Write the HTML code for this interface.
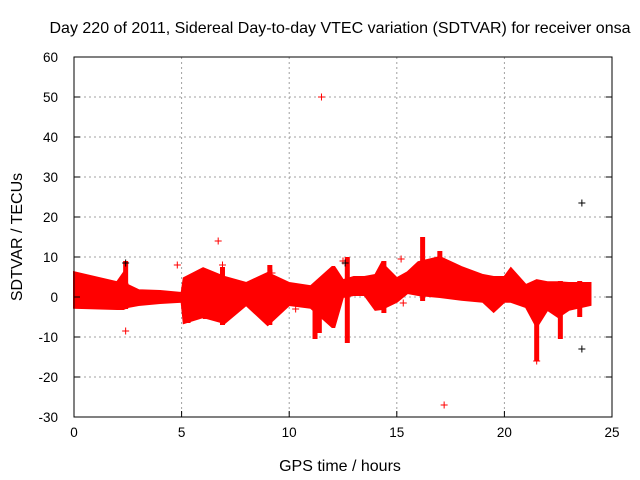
<!DOCTYPE html>
<html><head><meta charset="utf-8"><style>
body{margin:0;background:#fff;}
svg{display:block;font-family:"Liberation Sans",sans-serif;}
</style></head><body>
<svg id="chart" width="640" height="480" viewBox="0 0 640 480">
<text x="340" y="33" font-size="16" text-anchor="middle">Day 220 of 2011, Sidereal Day-to-day VTEC variation (SDTVAR) for receiver onsa</text>
<text transform="translate(22,237) rotate(-90)" font-size="16" text-anchor="middle">SDTVAR / TECUs</text>
<text x="340" y="471" font-size="16" text-anchor="middle">GPS time / hours</text>
<g id="grid"></g>
<g id="band"></g>
<g id="axes"></g>
</svg>
<script>
const xTicks=[0,5,10,15,20,25];
const yTicks=[-30,-20,-10,0,10,20,30,40,50,60];
const envX=[0,2,2.3,2.5,3,4,5,5.1,6,7,8,9,10,11,12,12.1,12.5,13,13.5,14,14.3,15,15.5,16,17,18,19,19.5,20,20.3,21,21.5,22,22.5,23,24];
const envHi=[6.2,3.7,6,3,1.7,1.5,1,4.7,7.2,5,3.5,6,3.5,2.7,7.5,7.5,4.2,5,5,5.5,8.5,4.7,6.2,8.7,10,7.5,5.5,5,5,7.2,3,4.2,3.7,3.7,3.5,3.5];
const envLo=[-2.7,-3,-3,-2.5,-2,-1.5,-1.2,-6.5,-5,-6.5,-2,-7,-2,-2.7,-7.5,-7.5,0,0.5,0.5,-3.2,-3,-1.2,1,0.5,0,-0.7,-1.2,-3.7,-1.2,-1.2,-2.5,-7.5,-3.2,-5,-3.2,-2];
const spikeX=[2.4,5.3,6.1,6.9,9.1,11.2,11.4,12.7,14.4,16.2,17,21.5,22.6,23.5];
const spikeLo=[-3,-6.5,-5.5,-7,-7,-10.5,-9,-11.5,-4,-1,0,-16,-10.5,-5];
const spikeHi=[9,4,6.5,7.5,8,3,3,10,9,15,11.5,4,4,4];
const redX=[11.5,17.2,6.7,4.8,2.4,12.5,6.9,15.2,21.5,14.6,15.3,10.3,9.2];
const redY=[50,-27,14,8,-8.5,9,8,9.5,-16,-1.5,-1.5,-3,6];
const blackX=[2.4,23.6,23.6,12.6];
const blackY=[8.5,23.5,-13,8.5];
const L=74,R=612,T=57,B=417;
const sx=v=>L+(v-0)/(25-0)*(R-L);
const sy=v=>B-(v+30)/(90)*(B-T);
const NS="http://www.w3.org/2000/svg";
function mk(tag,attrs,parent){const e=document.createElementNS(NS,tag);for(const k in attrs)e.setAttribute(k,attrs[k]);parent.appendChild(e);return e;}
const grid=document.getElementById('grid'),axes=document.getElementById('axes'),band=document.getElementById('band');
xTicks.forEach(t=>{
  if(t>0&&t<25){const g=mk('line',{x1:sx(t),x2:sx(t),y1:T,y2:B,stroke:'#a0a0a0','stroke-dasharray':'2,3'},grid);
  
  }
  const tk=mk('line',{x1:sx(t),x2:sx(t),y1:B,y2:B-6,stroke:'#000'},axes);
  
  
  const lb=mk('text',{x:sx(t),y:B+20,'font-size':'13.5','text-anchor':'middle'},axes);lb.textContent=t;
  
  
});
yTicks.forEach(t=>{
  if(t>-30&&t<60){const g=mk('line',{x1:L,x2:R,y1:sy(t),y2:sy(t),stroke:'#a0a0a0','stroke-dasharray':'2,3'},grid);
  
  }
  const tk=mk('line',{x1:L,x2:L+6,y1:sy(t),y2:sy(t),stroke:'#000'},axes);
  
  
  const tk2=mk('line',{x1:R,x2:R-6,y1:sy(t),y2:sy(t),stroke:'#000'},axes);
  
  
  const lb=mk('text',{x:L-16,y:sy(t)+5,'font-size':'13.5','text-anchor':'end'},axes);lb.textContent=t;
  
  
});
const fr=mk('rect',{x:L,y:T,width:R-L,height:B-T,fill:'none',stroke:'#000'},axes);


let d='M'+envX.map((x,i)=>sx(x)+','+sy(envHi[i])).join(' L');
d+=' L'+envX.map((x,i)=>[x,envLo[i]]).reverse().map(p=>sx(p[0])+','+sy(p[1])).join(' L')+'Z';
const poly=mk('path',{d:d,fill:'#ff0000',stroke:'#ff0000','stroke-width':'2'},band);


spikeX.forEach((x,i)=>{
  const s=mk('rect',{x:sx(x)-2.5,y:sy(spikeHi[i]),width:5,height:sy(spikeLo[i])-sy(spikeHi[i]),fill:'#ff0000'},band);
  
  
});
function cross(x,y,c,name){
  const p=mk('path',{d:`M${sx(x)-3.5},${sy(y)} h7 M${sx(x)},${sy(y)-3.5} v7`,stroke:c,'stroke-width':'1'},band);
  
  
}
redX.forEach((x,i)=>cross(x,redY[i],'#ff0000','outlier-point'));
blackX.forEach((x,i)=>cross(x,blackY[i],'#000','black-point'));
</script>
</body></html>
